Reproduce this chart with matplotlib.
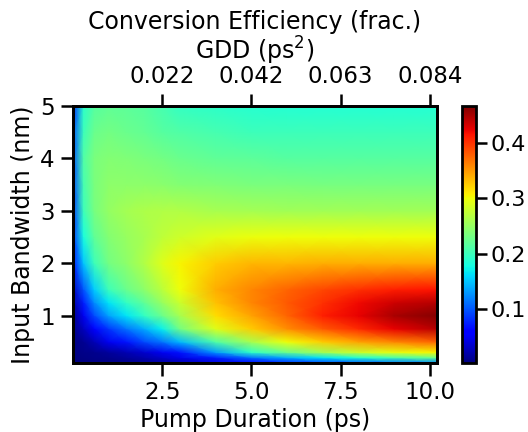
import numpy as np
import matplotlib
matplotlib.use("Agg")
import matplotlib.pyplot as plt

# pump duration (ps) and input bandwidth (nm) sample grid
duracion = [0.0, 0.3, 0.6, 1.0, 1.5, 2.0, 2.5, 3.0, 4.0, 5.0, 6.0, 7.0, 8.0, 9.0, 10.2]
ancho_banda = [0.1, 0.2, 0.3, 0.5, 0.75, 1.0, 1.25, 1.5, 2.0, 2.5, 3.0, 3.5, 4.0, 4.5, 5.0]

# conversion efficiency, one row per bandwidth value
eficiencia = [
    [0.003, 0.004, 0.005, 0.006, 0.008, 0.012, 0.016, 0.022, 0.040, 0.060, 0.078, 0.090, 0.100, 0.110, 0.120],
    [0.004, 0.005, 0.007, 0.010, 0.015, 0.022, 0.032, 0.045, 0.075, 0.110, 0.140, 0.165, 0.185, 0.205, 0.225],
    [0.005, 0.007, 0.010, 0.015, 0.024, 0.035, 0.050, 0.070, 0.130, 0.190, 0.225, 0.255, 0.280, 0.295, 0.305],
    [0.006, 0.012, 0.025, 0.050, 0.070, 0.095, 0.115, 0.145, 0.210, 0.260, 0.300, 0.325, 0.345, 0.360, 0.375],
    [0.008, 0.030, 0.060, 0.085, 0.115, 0.140, 0.170, 0.230, 0.290, 0.325, 0.355, 0.380, 0.405, 0.425, 0.445],
    [0.010, 0.050, 0.095, 0.135, 0.165, 0.195, 0.225, 0.260, 0.315, 0.345, 0.375, 0.410, 0.425, 0.450, 0.465],
    [0.020, 0.075, 0.125, 0.165, 0.195, 0.220, 0.250, 0.280, 0.330, 0.360, 0.380, 0.400, 0.420, 0.435, 0.445],
    [0.030, 0.100, 0.155, 0.200, 0.225, 0.245, 0.270, 0.300, 0.340, 0.360, 0.375, 0.390, 0.400, 0.410, 0.415],
    [0.070, 0.150, 0.200, 0.230, 0.245, 0.265, 0.290, 0.305, 0.325, 0.335, 0.335, 0.340, 0.340, 0.340, 0.340],
    [0.085, 0.180, 0.220, 0.240, 0.250, 0.260, 0.272, 0.282, 0.292, 0.298, 0.300, 0.300, 0.300, 0.300, 0.300],
    [0.090, 0.200, 0.232, 0.248, 0.258, 0.263, 0.265, 0.265, 0.260, 0.258, 0.256, 0.255, 0.255, 0.255, 0.255],
    [0.095, 0.205, 0.235, 0.245, 0.245, 0.245, 0.243, 0.240, 0.237, 0.235, 0.234, 0.233, 0.233, 0.233, 0.233],
    [0.100, 0.210, 0.235, 0.240, 0.238, 0.235, 0.230, 0.225, 0.220, 0.217, 0.215, 0.215, 0.215, 0.215, 0.215],
    [0.100, 0.200, 0.225, 0.230, 0.225, 0.222, 0.215, 0.210, 0.205, 0.200, 0.200, 0.200, 0.200, 0.200, 0.200],
    [0.080, 0.190, 0.215, 0.220, 0.218, 0.215, 0.205, 0.195, 0.190, 0.187, 0.185, 0.185, 0.185, 0.185, 0.185],
]

# top axis: GDD labels placed at the pump duration ticks
ticks_duracion = [2.5, 5.0, 7.5, 10.0]
etiquetas_gdd = ["0.022", "0.042", "0.063", "0.084"]

plt.rcParams["font.family"] = "DejaVu Sans"

fig = plt.figure(figsize=(5.28, 4.32), dpi=100)
ax = fig.add_axes([0.138, 0.160, 0.690, 0.595])
cax = fig.add_axes([0.875, 0.160, 0.027, 0.595])

malla = ax.pcolormesh(duracion, ancho_banda, np.array(eficiencia), cmap="jet",
                      shading="gouraud", vmin=0.003, vmax=0.467, rasterized=True)
ax.set_xlim(0.0, 10.2)
ax.set_ylim(0.1, 5.0)
ax.set_xticks(ticks_duracion)
ax.set_xticklabels(["2.5", "5.0", "7.5", "10.0"])
ax.set_yticks([1, 2, 3, 4, 5])
ax.set_xlabel("Pump Duration (ps)", fontsize=17, labelpad=3)
ax.set_ylabel("Input Bandwidth (nm)", fontsize=17, labelpad=4)

ax2 = ax.twiny()
ax2.set_xlim(ax.get_xlim())
ax2.set_xticks(ticks_duracion)
ax2.set_xticklabels(etiquetas_gdd)
ax2.set_xlabel("GDD (ps$^2$)", fontsize=17, labelpad=4)
ax2.set_title("Conversion Efficiency (frac.)", fontsize=17, pad=4)

cb = fig.colorbar(malla, cax=cax)
cb.set_ticks([0.1, 0.2, 0.3, 0.4])
cb.outline.set_linewidth(2.0)

for a in (ax, ax2):
    for s in a.spines.values():
        s.set_linewidth(2.0)
    a.tick_params(labelsize=16.5, length=9, width=1.8, pad=4)
cax.tick_params(labelsize=16, length=8, width=1.8, pad=2)

fig.savefig("out.png", dpi=100)
